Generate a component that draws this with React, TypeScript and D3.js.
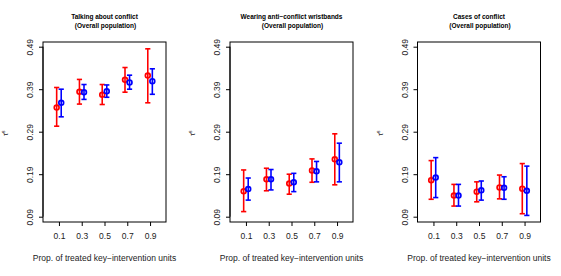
import React, { useEffect, useRef } from 'react';
import * as d3 from 'd3';

// proportions on the x axis
const props = [0.1, 0.3, 0.5, 0.7, 0.9];
const yTicks = [0.09, 0.19, 0.29, 0.39, 0.49];

const titles = ['Talking about conflict', 'Wearing anti\u2212conflict wristbands', 'Cases of conflict'];

// red series: estimate, upper, lower
const redEst = [
  [0.347, 0.384, 0.377, 0.412, 0.422],
  [0.150, 0.178, 0.168, 0.199, 0.225],
  [0.176, 0.140, 0.149, 0.159, 0.156],
];
const redHi = [
  [0.394, 0.413, 0.401, 0.441, 0.485],
  [0.200, 0.204, 0.190, 0.226, 0.285],
  [0.222, 0.166, 0.172, 0.188, 0.215],
];
const redLo = [
  [0.303, 0.355, 0.354, 0.383, 0.358],
  [0.102, 0.151, 0.143, 0.171, 0.165],
  [0.131, 0.115, 0.125, 0.132, 0.097],
];

// blue series
const blueEst = [
  [0.358, 0.383, 0.385, 0.406, 0.409],
  [0.155, 0.178, 0.171, 0.197, 0.218],
  [0.182, 0.140, 0.152, 0.158, 0.151],
];
const blueHi = [
  [0.390, 0.401, 0.400, 0.423, 0.438],
  [0.181, 0.201, 0.192, 0.220, 0.263],
  [0.229, 0.166, 0.174, 0.184, 0.209],
];
const blueLo = [
  [0.325, 0.366, 0.371, 0.390, 0.378],
  [0.129, 0.153, 0.149, 0.172, 0.172],
  [0.135, 0.115, 0.129, 0.131, 0.093],
];

function App() {
  const ref = useRef<SVGSVGElement>(null);

  useEffect(() => {
    const svg = d3.select(ref.current);
    svg.selectAll('*').remove();

    const font = 'Liberation Sans, Arial, sans-serif';
    const panelX = [0, 187, 374.5];
    const boxL = 43, boxR = 166, boxT = 42, boxB = 222;

    // xlim 0..1 with R's 4% padding
    const x = d3.scaleLinear().domain([-0.04, 1.04]).range([boxL, boxR]);
    const y = d3.scaleLinear().domain([0.09, 0.49]).range([216.7, 46.7]);

    const series = [
      { color: '#ff0000', off: -0.02, est: redEst, hi: redHi, lo: redLo },
      { color: '#0000ff', off: 0.02, est: blueEst, hi: blueHi, lo: blueLo },
    ];

    titles.forEach((title, p) => {
      const g = svg.append('g').attr('transform', `translate(${panelX[p]},0)`);

      g.append('rect')
        .attr('x', boxL).attr('y', boxT)
        .attr('width', boxR - boxL).attr('height', boxB - boxT)
        .attr('fill', 'none').attr('stroke', '#000').attr('stroke-width', 1);

      // title
      const cx = (boxL + boxR) / 2;
      g.append('text').attr('x', cx).attr('y', 19)
        .attr('text-anchor', 'middle').attr('font-family', font).attr('fill', '#000')
        .attr('font-weight', 'bold').attr('font-size', 6.5).text(title);
      g.append('text').attr('x', cx + 1).attr('y', 28)
        .attr('text-anchor', 'middle').attr('font-family', font).attr('fill', '#000')
        .attr('font-weight', 'bold').attr('font-size', 6.5).text('(Overall population)');

      // y axis
      const yAxis = d3.axisLeft(y).tickValues(yTicks).tickSize(4).tickPadding(5)
        .tickFormat(d3.format('.2f'));
      const ya = g.append('g').attr('transform', `translate(${boxL},0)`).call(yAxis);
      ya.select('.domain').remove();
      ya.append('line').attr('x1', 0).attr('x2', 0)
        .attr('y1', y(0.49)).attr('y2', y(0.09)).attr('stroke', '#000');
      ya.selectAll('.tick text')
        .attr('font-family', font).attr('font-size', 8.5).attr('fill', '#222')
        .attr('transform', 'rotate(-90)')
        .attr('x', 0).attr('y', -10).attr('dy', null)
        .attr('text-anchor', 'middle');

      // x axis
      const xAxis = d3.axisBottom(x).tickValues(props).tickSize(4).tickPadding(7)
        .tickFormat(d3.format('.1f'));
      const xa = g.append('g').attr('transform', `translate(0,${boxB})`).call(xAxis);
      xa.select('.domain').remove();
      xa.selectAll('.tick text').attr('font-family', font).attr('font-size', 8.5).attr('fill', '#222');

      // x label
      g.append('text').attr('x', cx).attr('y', 261)
        .attr('text-anchor', 'middle').attr('font-family', font)
        .attr('font-size', 8.5).attr('fill', '#222')
        .text('Prop. of treated key\u2212intervention units');

      // y label
      const yl = g.append('text').attr('transform', 'translate(8,133) rotate(-90)')
        .attr('text-anchor', 'middle').attr('font-family', font).attr('font-size', 7).attr('fill', '#222');
      yl.append('tspan').text('\u03c4\u0302');
      yl.append('tspan').attr('font-size', 5).attr('dy', -3).text('s');

      // error bars + points
      series.forEach((s) => {
        const sg = g.append('g').attr('stroke', s.color).attr('fill', 'none');
        props.forEach((pv, i) => {
          const px = x(pv + s.off);
          sg.append('line').attr('x1', px).attr('x2', px)
            .attr('y1', y(s.hi[p][i])).attr('y2', y(s.lo[p][i])).attr('stroke-width', 1.6);
          [s.hi[p][i], s.lo[p][i]].forEach((v) => {
            sg.append('line').attr('x1', px - 2.6).attr('x2', px + 2.6)
              .attr('y1', y(v)).attr('y2', y(v)).attr('stroke-width', 1.6);
          });
          sg.append('circle').attr('cx', px).attr('cy', y(s.est[p][i]))
            .attr('r', 2.4).attr('stroke-width', 1.7).attr('fill', 'none');
        });
      });
    });
  }, []);

  return (
    <svg ref={ref} width={561} height={276}
      style={{ position: 'absolute', left: 0, top: 0, background: '#fff' }} />
  );
}

export default App;
